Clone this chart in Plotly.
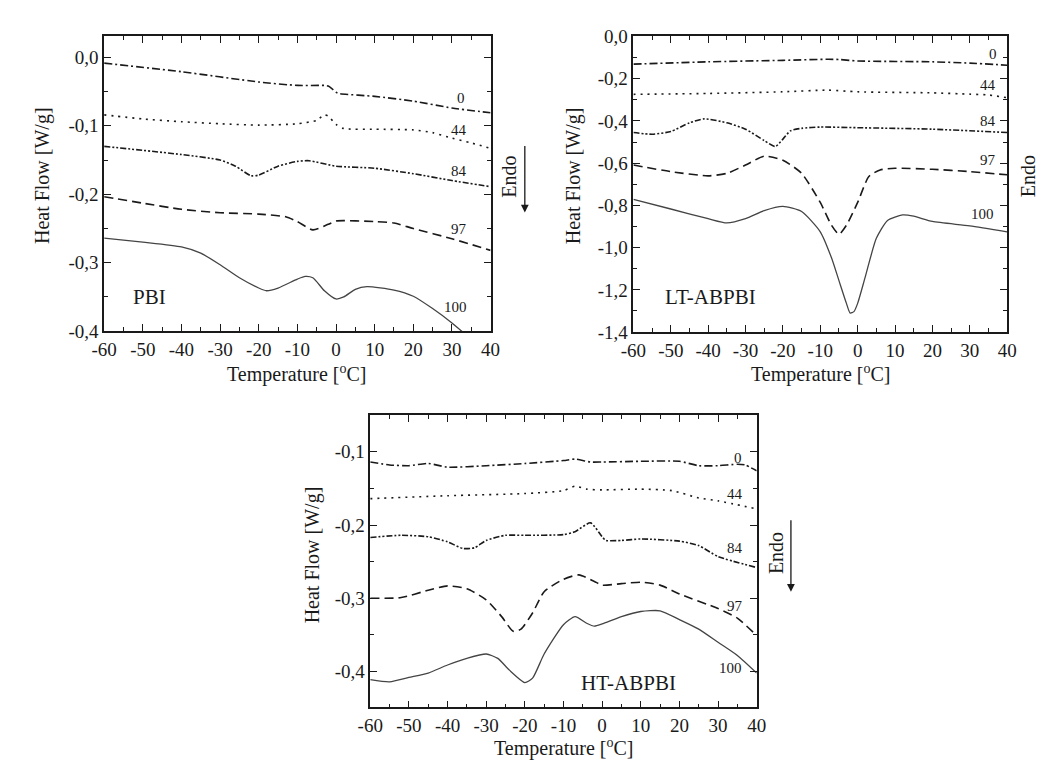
import plotly.graph_objects as go

# ---- data (temperature in degC, heat flow in W/g) ----
series_names = ["0", "44", "84", "97", "100"]

# PBI
pbi_x = {
    "0":   [-60, -40, -20, -10, -3, -2, -1, 0, 1, 10, 20, 30, 40],
    "44":  [-60, -50, -40, -30, -20, -10, -5, -3, -2, 0, 2, 10, 20, 25, 30, 35, 40],
    "84":  [-60, -40, -30, -26, -22, -20, -15, -10, -7, 0, 10, 20, 30, 40],
    "97":  [-60, -50, -40, -30, -20, -13, -10, -6, -2, 0, 10, 15, 20, 30, 40],
    "100": [-60, -50, -40, -35, -30, -25, -20, -18, -15, -10, -8, -6, -3, 0, 2, 5, 8, 15, 20, 25, 30, 35, 40],
}
pbi_y = {
    "0":   [-0.0085, -0.021, -0.036, -0.041, -0.041, -0.042, -0.046, -0.051, -0.053, -0.057, -0.064, -0.074, -0.081],
    "44":  [-0.084, -0.090, -0.094, -0.097, -0.099, -0.097, -0.092, -0.084, -0.086, -0.098, -0.104, -0.105, -0.106,
            -0.110, -0.118, -0.125, -0.133],
    "84":  [-0.130, -0.142, -0.150, -0.159, -0.173, -0.172, -0.159, -0.152, -0.151, -0.159, -0.162, -0.170, -0.180,
            -0.189],
    "97":  [-0.2036, -0.213, -0.222, -0.227, -0.229, -0.233, -0.240, -0.252, -0.244, -0.239, -0.240, -0.242,
            -0.250, -0.265, -0.282],
    "100": [-0.264, -0.270, -0.277, -0.286, -0.303, -0.322, -0.337, -0.341, -0.337, -0.324, -0.320, -0.322, -0.341,
            -0.353, -0.350, -0.339, -0.335, -0.340, -0.349, -0.367, -0.388, -0.412, -0.435],
}

# LT-ABPBI
lt_x = {
    "0":   [-60, -40, -20, -8, -5, 0, 20, 30, 40],
    "44":  [-60, -40, -20, -8, 0, 20, 30, 35, 40],
    "84":  [-60, -55, -50, -45, -41, -35, -30, -25, -22, -20, -18, -15, -10, 0, 20, 40],
    "97":  [-60, -50, -40, -35, -30, -25, -20, -15, -10, -7, -5, -3, 0, 3, 6, 10, 20, 30, 40],
    "100": [-60, -50, -40, -35, -30, -25, -20, -15, -10, -7, -5, -3, -2, -1, 0, 2, 5, 8, 12, 15, 20, 30, 40],
}
lt_y = {
    "0":   [-0.131, -0.120, -0.113, -0.108, -0.109, -0.116, -0.120, -0.126, -0.136],
    "44":  [-0.274, -0.270, -0.262, -0.254, -0.262, -0.267, -0.273, -0.277, -0.290],
    "84":  [-0.455, -0.463, -0.450, -0.409, -0.390, -0.409, -0.439, -0.493, -0.521, -0.486, -0.447, -0.435,
            -0.429, -0.432, -0.439, -0.455],
    "97":  [-0.609, -0.640, -0.660, -0.648, -0.609, -0.567, -0.586, -0.648, -0.786, -0.894, -0.937, -0.894,
            -0.786, -0.663, -0.632, -0.624, -0.629, -0.640, -0.655],
    "100": [-0.771, -0.817, -0.863, -0.883, -0.863, -0.825, -0.805, -0.829, -0.925, -1.048, -1.156, -1.264,
            -1.310, -1.303, -1.264, -1.141, -0.956, -0.871, -0.845, -0.851, -0.876, -0.897, -0.925],
}

# HT-ABPBI
ht_x = {
    "0":   [-60, -55, -50, -45, -40, -30, -20, -10, -7, -3, 0, 10, 20, 25, 30, 35, 37, 40],
    "44":  [-60, -40, -20, -10, -7, -4, 0, 10, 18, 25, 30, 40],
    "84":  [-60, -52, -45, -40, -36, -33, -30, -25, -20, -10, -7, -3, 0, 1, 5, 10, 20, 25, 30, 40],
    "97":  [-60, -52, -45, -40, -35, -30, -26, -23, -21, -18, -15, -10, -6, -2, 0, 5, 10, 15, 20, 30, 35, 40],
    "100": [-60, -55, -50, -45, -40, -35, -30, -27, -24, -20, -18, -15, -10, -7, -4, -2, 0, 5, 10, 15, 20, 25,
            30, 35, 40],
}
ht_y = {
    "0":   [-0.114, -0.118, -0.119, -0.116, -0.121, -0.119, -0.116, -0.112, -0.110, -0.114, -0.114, -0.113,
            -0.113, -0.119, -0.119, -0.117, -0.118, -0.126],
    "44":  [-0.164, -0.160, -0.157, -0.153, -0.147, -0.151, -0.152, -0.151, -0.153, -0.163, -0.167, -0.178],
    "84":  [-0.217, -0.214, -0.216, -0.223, -0.232, -0.231, -0.221, -0.214, -0.214, -0.213, -0.209, -0.197,
            -0.216, -0.221, -0.221, -0.219, -0.222, -0.228, -0.243, -0.258],
    "97":  [-0.300, -0.299, -0.289, -0.283, -0.287, -0.302, -0.325, -0.345, -0.342, -0.320, -0.291, -0.274,
            -0.268, -0.277, -0.282, -0.280, -0.278, -0.282, -0.294, -0.314, -0.327, -0.351],
    "100": [-0.411, -0.414, -0.408, -0.402, -0.391, -0.382, -0.376, -0.382, -0.398, -0.415, -0.409, -0.376,
            -0.336, -0.325, -0.334, -0.338, -0.335, -0.325, -0.318, -0.317, -0.329, -0.342, -0.360, -0.378,
            -0.402],
}

x_tickvals = [-60, -50, -40, -30, -20, -10, 0, 10, 20, 30, 40]
x_ticktext = ["-60", "-50", "-40", "-30", "-20", "-10", "0", "10", "20", "30", "40"]
pbi_tickvals = [0.0, -0.1, -0.2, -0.3, -0.4]
pbi_ticktext = ["0,0", "-0,1", "-0,2", "-0,3", "-0,4"]
lt_tickvals = [0.0, -0.2, -0.4, -0.6, -0.8, -1.0, -1.2, -1.4]
lt_ticktext = ["0,0", "-0,2", "-0,4", "-0,6", "-0,8", "-1,0", "-1,2", "-1,4"]
ht_tickvals = [-0.1, -0.2, -0.3, -0.4]
ht_ticktext = ["-0,1", "-0,2", "-0,3", "-0,4"]

panel_names = ["PBI", "LT-ABPBI", "HT-ABPBI"]

W, H = 1060, 763
FONT = "Liberation Serif"
INK = "#1a1a1a"

styles = {
    "0":   dict(dash="8px,3px,2px,3px", width=1.6, color=INK),
    "44":  dict(dash="2px,5px", width=1.6, color=INK),
    "84":  dict(dash="6px,2px,2px,2px,2px,2px", width=1.6, color=INK),
    "97":  dict(dash="9px,5px", width=1.6, color=INK),
    "100": dict(dash="solid", width=1.3, color="#444444"),
}

# plot areas in pixels: (left, right, top, bottom)
boxes = [(85, 480, 19, 322), (626, 1008, 19, 323), (357, 752, 408, 709)]


def px(x):
    return x / W


def py(y):
    return 1 - y / H


fig = go.Figure()

panels = [
    (pbi_x, pbi_y, [-0.4, 0.0305], pbi_tickvals, pbi_ticktext, 0.05),
    (lt_x, lt_y, [-1.4, 0.0], lt_tickvals, lt_ticktext, 0.1),
    (ht_x, ht_y, [-0.449, -0.0495], ht_tickvals, ht_ticktext, 0.05),
]

for i, (xs, ys, yrange, yv, yt, ydt) in enumerate(panels):
    n = "" if i == 0 else str(i + 1)
    for s in series_names:
        fig.add_trace(go.Scatter(
            x=xs[s], y=ys[s], mode="lines", xaxis="x" + n, yaxis="y" + n,
            line=dict(shape="spline", smoothing=0.6, **styles[s]),
            showlegend=False, hoverinfo="skip", cliponaxis=True
        ))
    l, r, t, b = boxes[i]
    axis_common = dict(
        showline=True, linecolor=INK, linewidth=1.5, mirror="ticks",
        ticks="inside", ticklen=7, tickwidth=1.3, tickcolor=INK,
        showgrid=False, zeroline=False, tickmode="array",
        tickfont=dict(family=FONT, size=19, color=INK),
    )
    fig.update_layout(**{
        "xaxis" + n: dict(
            domain=[px(l), px(r)], anchor="y" + n, range=[-60, 40],
            tickvals=x_tickvals, ticktext=x_ticktext,
            minor=dict(ticks="inside", ticklen=4, tickwidth=1.2, tickcolor=INK,
                       tickmode="linear", tick0=-55, dtick=10),
            **axis_common
        ),
        "yaxis" + n: dict(
            domain=[py(b), py(t)], anchor="x" + n, range=yrange,
            tickvals=yv, ticktext=yt,
            minor=dict(ticks="inside", ticklen=4, tickwidth=1.2, tickcolor=INK,
                       tickmode="linear", tick0=0, dtick=ydt),
            **axis_common
        ),
    })

annotations = []

# curve labels and sample names (data coordinates)
curve_label_pos = [
    {"0": (32.4, -0.0596), "44": (31.8, -0.106), "84": (31.8, -0.166), "97": (31.8, -0.251), "100": (31.0, -0.365)},
    {"0": (36.1, -0.083), "44": (34.8, -0.231), "84": (34.8, -0.402), "97": (34.8, -0.587), "100": (33.5, -0.841)},
    {"0": (35.2, -0.108), "44": (34.4, -0.157), "84": (34.4, -0.231), "97": (34.4, -0.311), "100": (33.2, -0.395)},
]
name_pos = [(-53, -0.350), (-52, -1.234), (-6, -0.415)]

for i in range(3):
    n = "" if i == 0 else str(i + 1)
    for s in series_names:
        cx, cy = curve_label_pos[i][s]
        annotations.append(dict(
            x=cx, y=cy, xref="x" + n, yref="y" + n, text=s, showarrow=False,
            xanchor="center", yanchor="middle",
            font=dict(family=FONT, size=15, color=INK)
        ))
    nx, ny = name_pos[i]
    annotations.append(dict(
        x=nx, y=ny, xref="x" + n, yref="y" + n, text=panel_names[i], showarrow=False,
        xanchor="left", yanchor="middle", font=dict(family=FONT, size=21, color=INK)
    ))

# axis titles
xtitle_pos = [(282, 366), (817, 366), (555, 750)]
ytitle_pos = [(22, 162), (565, 162), (298, 552)]
for (tx, ty) in xtitle_pos:
    annotations.append(dict(
        x=px(tx), y=py(ty), xref="paper", yref="paper", showarrow=False,
        xanchor="center", yanchor="middle",
        text="Temperature [<sup>o</sup>C]", font=dict(family=FONT, size=20, color=INK)
    ))
for (tx, ty) in ytitle_pos:
    annotations.append(dict(
        x=px(tx), y=py(ty), xref="paper", yref="paper", showarrow=False, textangle=-90,
        xanchor="center", yanchor="middle",
        text="Heat Flow [W/g]", font=dict(family=FONT, size=20, color=INK)
    ))

# "Endo" markers
endo_text_pos = [(498, 163), (1029, 163), (772, 550)]
for (tx, ty) in endo_text_pos:
    annotations.append(dict(
        x=px(tx), y=py(ty), xref="paper", yref="paper", showarrow=False, textangle=-90,
        xanchor="center", yanchor="middle",
        text="Endo", font=dict(family=FONT, size=20, color=INK)
    ))
endo_arrows = [(515, 132, 200), (787, 517, 590)]
for (ax_, y0, y1) in endo_arrows:
    annotations.append(dict(
        x=px(ax_), y=py(y1), xref="paper", yref="paper", text="",
        showarrow=True, arrowhead=2, arrowsize=1.2, arrowwidth=1.3, arrowcolor=INK,
        ax=0, ay=-(y1 - y0)
    ))

fig.update_layout(
    width=W, height=H,
    margin=dict(l=0, r=0, t=0, b=0),
    paper_bgcolor="white", plot_bgcolor="white",
    font=dict(family=FONT, color=INK),
    annotations=annotations,
)

fig.write_html("out.html")
